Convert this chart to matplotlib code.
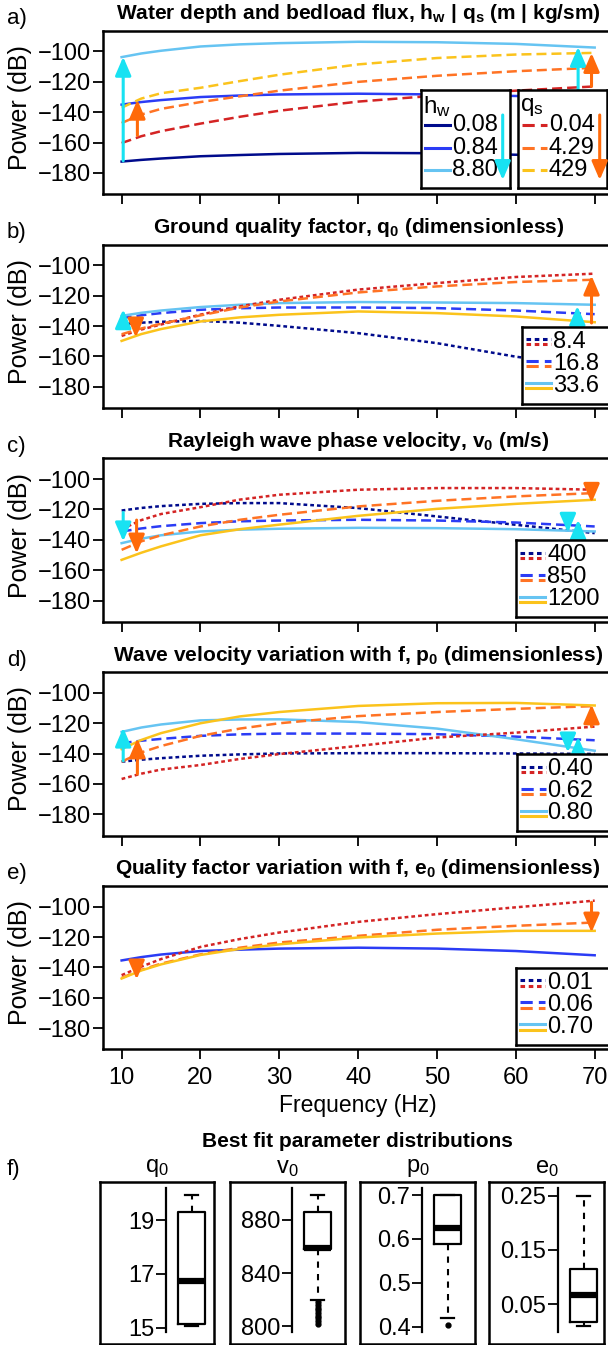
import matplotlib
matplotlib.use("Agg")
import matplotlib.pyplot as plt

plt.rcParams['font.family'] = ['Liberation Sans', 'DejaVu Sans']
plt.rcParams['mathtext.fontset'] = 'custom'
plt.rcParams['mathtext.rm'] = 'Liberation Sans'
plt.rcParams['mathtext.it'] = 'Liberation Sans'
plt.rcParams['mathtext.bf'] = 'Liberation Sans:bold'

W, H = 608, 1345

# frequencies (Hz) at which the spectra were read
freq = [10, 12.5, 15, 20, 25, 30, 40, 50, 60, 70]

# a) water depth h_w (turbulence) and bedload flux q_s
hw_labels = ['0.08', '0.84', '8.80']
hw_power = [
    [-172.5, -171.4, -170.5, -169.0, -168.2, -167.5, -166.8, -167.0, -168.0, -169.5],
    [-135.0, -133.3, -132.0, -130.0, -129.0, -128.3, -127.8, -128.3, -129.3, -130.5],
    [-103.7, -101.3, -99.5, -96.7, -95.3, -94.5, -93.6, -93.9, -95.0, -97.4],
]
qs_labels = ['0.04', '4.29', '429']
qs_power = [
    [-160.3, -155.8, -152.5, -147.5, -143.0, -139.0, -133.0, -129.0, -125.8, -123.0],
    [-147.1, -141.5, -137.8, -133.3, -129.5, -125.8, -120.0, -116.0, -113.0, -110.7],
    [-137.0, -131.0, -127.5, -123.9, -119.5, -115.3, -108.5, -104.3, -102.0, -100.9],
]

# b) ground quality factor q0
q0_labels = ['8.4', '16.8', '33.6']
q0_turb = [
    [-138.8, -137.8, -137.2, -136.6, -137.8, -139.9, -144.7, -151.3, -160.2, -167.0],
    [-134.8, -132.9, -131.5, -129.3, -128.3, -127.8, -127.8, -128.2, -129.8, -132.2],
    [-133.3, -131.3, -129.8, -127.5, -126.0, -124.9, -124.2, -124.5, -124.9, -126.0],
]
q0_bed = [
    [-146.5, -142.3, -139.0, -132.5, -127.0, -122.7, -116.0, -111.7, -107.7, -105.5],
    [-145.4, -141.6, -138.5, -133.0, -127.8, -123.8, -117.9, -113.9, -111.0, -109.5],
    [-149.8, -145.3, -142.0, -137.0, -134.3, -132.6, -130.4, -131.5, -133.7, -137.5],
]

# c) Rayleigh wave phase velocity v0
v0_labels = ['400', '850', '1200']
v0_turb = [
    [-120.7, -119.0, -117.8, -116.3, -115.8, -115.8, -119.1, -124.6, -130.1, -135.6],
    [-134.5, -132.5, -131.0, -129.0, -127.8, -127.3, -126.8, -127.3, -128.6, -131.2],
    [-142.2, -139.2, -137.0, -134.5, -133.3, -132.7, -132.1, -132.3, -133.0, -134.5],
]
v0_bed = [
    [-133.0, -127.0, -123.0, -118.5, -113.5, -110.3, -107.0, -105.9, -105.9, -107.0],
    [-146.6, -141.0, -137.0, -131.2, -126.8, -123.5, -118.0, -114.3, -111.4, -109.2],
    [-153.2, -148.5, -144.3, -137.0, -133.0, -130.0, -124.2, -119.6, -116.3, -113.6],
]

# d) wave velocity variation with f, p0
p0_labels = ['0.40', '0.62', '0.80']
p0_turb = [
    [-145.3, -144.0, -143.0, -141.4, -140.5, -139.9, -139.7, -139.7, -139.9, -140.2],
    [-133.1, -131.5, -130.3, -128.3, -127.3, -126.8, -126.8, -127.2, -128.8, -131.2],
    [-125.7, -122.8, -120.8, -118.1, -117.5, -117.4, -119.2, -123.5, -130.5, -138.1],
]
p0_bed = [
    [-156.7, -153.2, -150.5, -147.5, -143.5, -140.3, -134.9, -129.4, -126.2, -122.2],
    [-145.3, -139.2, -135.0, -128.3, -123.5, -120.0, -115.3, -112.6, -110.5, -108.7],
    [-137.0, -131.0, -126.5, -120.0, -115.5, -112.6, -108.6, -106.8, -106.6, -108.3],
]

# e) quality factor variation with f, e0 (turbulence spectra do not depend on e0)
e0_labels = ['0.01', '0.06', '0.70']
e0_turb = [-135.4, -133.2, -131.5, -129.2, -128.3, -127.6, -127.0, -127.6, -129.2, -132.0]
e0_bed = [
    [-145.1, -139.5, -134.5, -126.5, -121.3, -117.0, -110.0, -104.9, -100.4, -96.0],
    [-146.9, -141.6, -137.5, -131.4, -127.0, -123.6, -119.2, -115.2, -112.6, -110.4],
    [-147.3, -142.0, -138.0, -131.8, -127.8, -124.8, -120.3, -117.7, -115.9, -115.9],
]

# change arrows: frequency, start power, end power, model ('t' turbulence, 'b' bedload)
a_arrows = [(10.2, -172.0, -103.5, 't'), (12.0, -155.3, -131.8, 'b'),
            (67.9, -169.0, -97.0, 't'), (69.6, -123.0, -101.0, 'b')]
b_arrows = [(10.2, -138.8, -129.0, 't'), (11.8, -139.0, -147.5, 'b'),
            (67.8, -165.0, -126.8, 't'), (69.6, -138.0, -106.8, 'b')]
c_arrows = [(10.2, -122.0, -141.0, 't'), (11.9, -127.0, -149.0, 'b'),
            (66.6, -126.8, -135.3, 't'), (67.9, -135.3, -126.8, 't'),
            (69.6, -105.0, -115.6, 'b')]
d_arrows = [(10.2, -144.7, -122.9, 't'), (12.0, -153.4, -130.0, 'b'),
            (66.6, -129.0, -139.2, 't'), (67.9, -139.2, -129.0, 't'),
            (69.6, -122.2, -107.6, 'b')]
e_arrows = [(11.9, -138.0, -147.9, 'b'), (69.6, -97.1, -117.0, 'b')]

# f) best fit parameter distributions (box plot statistics)
box_names = ['q', 'v', 'p', 'e']
box_stats = [
    dict(whislo=15.05, q1=15.13, med=16.75, q3=19.3, whishi=19.95, fliers=[]),
    dict(whislo=820, q1=858, med=859, q3=886, whishi=898.5,
         fliers=[818, 816, 814, 812, 810, 808, 806, 804, 802]),
    dict(whislo=0.42, q1=0.589, med=0.626, q3=0.70, whishi=0.70, fliers=[0.405]),
    dict(whislo=0.009, q1=0.017, med=0.067, q3=0.115, whishi=0.25, fliers=[]),
]
box_ticks = [[15, 17, 19], [800, 840, 880], [0.4, 0.5, 0.6, 0.7], [0.05, 0.15, 0.25]]
box_ticklabels = [['15', '17', '19'], ['800', '840', '880'],
                  ['0.4', '0.5', '0.6', '0.7'], ['0.05', '0.15', '0.25']]
box_ylims = [(14.85, 20.2), (796, 904), (0.389, 0.716), (-0.001, 0.264)]

NAVY, BLUE, LIGHT = '#000b8c', '#2b3cf5', '#66c4f2'
RED, ORANGE, GOLD = '#d42424', '#ff7324', '#fbc31c'
ARROW = {'t': '#18e2f2', 'b': '#ff6a0a'}
TURB = [NAVY, BLUE, LIGHT]
BED = [RED, ORANGE, GOLD]
DOT = (0, (1.5, 1.2))
DASH = (0, (4.0, 2.0))
STYLES = [DOT, DASH, '-']
LW = 1.8
FS = 17

fig = plt.figure(figsize=(W / 100, H / 100), dpi=100)


def add_px(left, top, width, height):
    return fig.add_axes([left / W, 1 - (top + height) / H, width / W, height / H])


def draw_arrows(ax, arrows):
    for f, p_start, p_end, kind in arrows:
        ax.annotate('', xy=(f, p_end), xytext=(f, p_start),
                    arrowprops=dict(arrowstyle='-|>,head_length=0.7,head_width=0.3',
                                    color=ARROW[kind], lw=2.2, mutation_scale=16,
                                    shrinkA=0, shrinkB=0), zorder=4)


def draw_legend(left, top, width, height, labels, color_sets, styles,
                rows_y, title=None, arrow_color=None):
    lg = add_px(left, top, width, height)
    lg.set_xlim(0, width)
    lg.set_ylim(height, 0)
    lg.set_xticks([])
    lg.set_yticks([])
    for s in lg.spines.values():
        s.set_linewidth(1.8)
    if title is not None:
        lg.text(2, 17, title, fontsize=FS + 0.5, va='center', ha='left')
    for lab, colors, ls, y in zip(labels, color_sets, styles, rows_y):
        offs = [0] if len(colors) == 1 else [-2.6, 2.6]
        for c, o in zip(colors, offs):
            lg.plot([4, 29], [y + o, y + o], color=c, ls=ls, lw=2.2)
        lg.text(31, y, lab, fontsize=FS, va='center', ha='left')
    if arrow_color is not None:
        lg.annotate('', xy=(82, 90), xytext=(82, 25),
                    arrowprops=dict(arrowstyle='-|>,head_length=0.7,head_width=0.3',
                                    color=arrow_color, lw=2.2, mutation_scale=16,
                                    shrinkA=0, shrinkB=0))
    return lg


titles = [
    r'Water depth and bedload flux, $\mathbf{h_w}$ | $\mathbf{q_s}$ (m | kg/sm)',
    r'Ground quality factor, $\mathbf{q_0}$ (dimensionless)',
    r'Rayleigh wave phase velocity, $\mathbf{v_0}$ (m/s)',
    r'Wave velocity variation with f, $\mathbf{p_0}$ (dimensionless)',
    r'Quality factor variation with f, $\mathbf{e_0}$ (dimensionless)',
]
panel_letters = ['a)', 'b)', 'c)', 'd)', 'e)']
panel_arrows = [a_arrows, b_arrows, c_arrows, d_arrows, e_arrows]

AX_LEFT, AX_W, AX_H, STEP, TOP0 = 102.7, 510.9, 163.5, 213.8, 30.7
axes = []
for i in range(5):
    top = TOP0 + i * STEP
    ax = add_px(AX_LEFT, top, AX_W, AX_H)
    ax.set_xlim(7.6, 72.4)
    ax.set_ylim(-194, -86.3)
    ax.set_xticks(range(10, 71, 10))
    ax.set_yticks(range(-180, -99, 20))
    ax.tick_params(direction='out', length=7, width=1.3, labelsize=FS, pad=1.5)
    ax.tick_params(axis='x', pad=6)
    if i < 4:
        ax.set_xticklabels([])
    for s in ax.spines.values():
        s.set_linewidth(1.8)
    ax.text(0.5, 1 + 17 / AX_H, titles[i], transform=ax.transAxes, ha='center',
            va='center', fontsize=15, fontweight='bold')
    fig.text(7 / W, 1 - (top - 12) / H, panel_letters[i], fontsize=16,
             ha='left', va='center')
    ax.text(-83 / AX_W, 0.53, 'Power (dB)', transform=ax.transAxes, rotation=90,
            ha='center', va='center', fontsize=18)
    axes.append(ax)

# a)
ax = axes[0]
for p, c in zip(hw_power, TURB):
    ax.plot(freq, p, color=c, lw=LW, ls='-')
for p, c in zip(qs_power, BED):
    ax.plot(freq, p, color=c, lw=LW, ls=DASH)

# b) - d)
for ax, turb, bed in zip(axes[1:4], [q0_turb, v0_turb, p0_turb], [q0_bed, v0_bed, p0_bed]):
    for p, c, ls in zip(turb, TURB, STYLES):
        ax.plot(freq, p, color=c, lw=LW, ls=ls)
    for p, c, ls in zip(bed, BED, STYLES):
        ax.plot(freq, p, color=c, lw=LW, ls=ls)

# e)
ax = axes[4]
ax.plot(freq, e0_turb, color=BLUE, lw=LW)
for p, c, ls in zip(e0_bed, BED, STYLES):
    ax.plot(freq, p, color=c, lw=LW, ls=ls)
ax.set_xlabel('Frequency (Hz)', fontsize=16.5, labelpad=3)

for ax, arr in zip(axes, panel_arrows):
    draw_arrows(ax, arr)

# legends
draw_legend(420.7, 90, 89.3, 98.3, hw_labels, [[c] for c in TURB], ['-'] * 3,
            [35, 58.3, 80], title=r'$\mathregular{h_w}$', arrow_color=ARROW['t'])
draw_legend(517.7, 90, 89.3, 98.3, qs_labels, [[c] for c in BED], [DASH] * 3,
            [35, 58.3, 80], title=r'$\mathregular{q_s}$', arrow_color=ARROW['b'])
pairs = [[t, b] for t, b in zip(TURB, BED)]
leg_left = [522, 516, 516.5, 516]
for i, (labs, left) in enumerate(zip([q0_labels, v0_labels, p0_labels, e0_labels], leg_left)):
    top = TOP0 + (i + 1) * STEP
    draw_legend(left, top + AX_H - 4.5 - 77, 100, 77, labs, pairs, STYLES, [15, 37, 59])

# f) box plots
fig.text(357.7 / W, 1 - 1141.7 / H, 'Best fit parameter distributions', fontsize=15,
         fontweight='bold', ha='center', va='center')
fig.text(7 / W, 1 - 1169 / H, 'f)', fontsize=16, ha='left', va='center')
outer_left = [99.6, 230.3, 360.2, 489.3]
spine_x = [165.6, 291.6, 421.5, 557.6]
for name, st, ticks, tlabs, ylim, ol, sx in zip(box_names, box_stats, box_ticks,
                                                 box_ticklabels, box_ylims, outer_left, spine_x):
    frame = add_px(ol, 1181.7, 114.8, 162.5)
    frame.set_xticks([])
    frame.set_yticks([])
    for s in frame.spines.values():
        s.set_linewidth(1.8)
    frame.patch.set_alpha(0)
    fig.text((ol + 57.4) / W, 1 - 1168 / H, r'$\mathregular{%s_0}$' % name,
             fontsize=FS, ha='center', va='center')
    bx = add_px(sx, 1188, 52, 143.7)
    bx.patch.set_alpha(0)
    bx.bxp([dict(st)], positions=[0.5], widths=0.52, capwidths=0.26,
           boxprops=dict(lw=1.6, color='black'),
           medianprops=dict(lw=4.5, color='black', solid_capstyle='butt'),
           whiskerprops=dict(lw=1.5, ls=(0, (3, 3)), color='black'),
           capprops=dict(lw=1.6, color='black'),
           flierprops=dict(marker='o', markersize=3.5, markerfacecolor='black',
                           markeredgecolor='black'))
    bx.set_xlim(0, 1)
    bx.set_ylim(*ylim)
    bx.set_yticks(ticks)
    bx.set_yticklabels(tlabs)
    bx.set_xticks([])
    for side in ['top', 'right', 'bottom']:
        bx.spines[side].set_visible(False)
    bx.spines['left'].set_linewidth(1.6)
    bx.tick_params(axis='y', direction='out', length=7, width=1.3, labelsize=FS, pad=1)

fig.savefig('out.png', dpi=100)
